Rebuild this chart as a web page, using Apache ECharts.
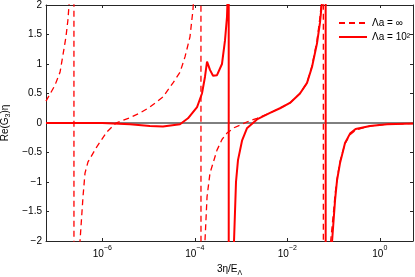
<!DOCTYPE html>
<html>
<head>
<meta charset="utf-8">
<script src="https://cdn.jsdelivr.net/npm/echarts@6/dist/echarts.min.js"></script>
<style>html,body{margin:0;padding:0;background:#fff;}#c{width:415px;height:277px;}</style>
</head>
<body>
<div id="c"></div>
<script>
// Λa = ∞ (dashed)
const dashX = [6.07e-8, 6.37e-8, 9.48e-8, 1.22e-7, 1.41e-7, 1.64e-7, 1.81e-7, 1.91e-7, 2.2e-7, 2.42e-7, 2.46e-7, 2.8e-7, 3.3e-7, 3.83e-7, 4.23e-7, 4.91e-7, 7.67e-7, 1.26e-6, 1.98e-6, 3.97e-6, 6.53e-6, 1.07e-5, 2.05e-5, 3.38e-5, 4.79e-5, 6.14e-5, 7.87e-5, 9.14e-5, 1.1e-4, 1.34e-4, 1.38e-4, 1.5e-4, 1.66e-4, 1.84e-4, 2.13e-4, 3.02e-4, 3.87e-4, 4.97e-4, 7.05e-4, 1.05e-3, 1.56e-3, 2.21e-3, 4.23e-3, 6.95e-3, 1.14e-2, 1.88e-2, 2.67e-2, 3.42e-2, 4.39e-2, 5.09e-2, 5.55e-2, 5.85e-2, 5.99e-2, 6.04e-2, 6.5e-2, 8.67e-2, 0.1, 0.108, 0.119, 0.138, 0.177, 0.227, 0.3, 0.615, 1.43, 5.22];
const dashY = [0.37, 0.39, 0.64, 0.86, 1.15, 1.46, 1.75, 2.0, 3.5, 30, -30, -4, -2.0, -1.25, -0.85, -0.66, -0.4, -0.15, 0.0, 0.09, 0.17, 0.27, 0.44, 0.68, 0.86, 1.12, 1.46, 1.92, 3, 30, -30, -4, -2.0, -1.25, -0.85, -0.46, -0.28, -0.17, -0.08, -0.02, 0.04, 0.08, 0.17, 0.25, 0.34, 0.5, 0.68, 0.97, 1.4, 1.8, 2.1, 4, 30, -30, -4, -2.0, -1.5, -1.2, -0.95, -0.65, -0.35, -0.2, -0.12, -0.05, -0.02, -0.01];
// Λa = 10^2 (solid)
const solidX = [6.07e-8, 1e-6, 3.97e-6, 1.07e-5, 2.05e-5, 4.79e-5, 7.13e-5, 1.12e-4, 1.43e-4, 1.66e-4, 1.84e-4, 2.13e-4, 2.48e-4, 3.02e-4, 3.87e-4, 4.5e-4, 4.97e-4, 5.22e-4, 5.38e-4, 5.45e-4, 6.37e-4, 7.05e-4, 7.78e-4, 8.59e-4, 1.05e-3, 1.34e-3, 2.21e-3, 4.23e-3, 6.95e-3, 1.14e-2, 1.88e-2, 2.67e-2, 3.42e-2, 4.39e-2, 5.09e-2, 5.62e-2, 6.1e-2, 6.7e-2, 6.8e-2, 8.0e-2, 9.3e-2, 0.108, 0.119, 0.138, 0.177, 0.227, 0.3, 0.615, 1.43, 5.22];
const solidY = [0.0, 0.0, -0.02, -0.05, -0.06, -0.02, 0.08, 0.27, 0.5, 0.78, 1.04, 0.9, 0.8, 0.81, 1.0, 1.4, 1.8, 2.3, 30, -30, -4, -2.0, -1.0, -0.63, -0.3, -0.09, 0.06, 0.17, 0.25, 0.34, 0.5, 0.68, 0.95, 1.35, 1.7, 2.05, 4, 30, -30, -4, -2.0, -1.3, -0.97, -0.68, -0.34, -0.18, -0.1, -0.05, -0.02, -0.01];
const xTicks = [1e-6, 1e-4, 1e-2, 1];
const xMin = 6.07e-8, xMax = 5.22;
const yMin = -2, yMax = 2, yStep = 0.5;
const seriesNames = ['\u039Ba = \u221E', '\u039Ba = 10\u00B2'];

const zip = (xs, ys) => xs.map((x, i) => [x, ys[i]]);
const RED = '#ff0000';
const AX = '#262626';
const FONT = 'Liberation Sans';

const expLabel = v => {
  const e = Math.round(Math.log10(v));
  return '{b|10}{s|' + (e < 0 ? '\u2212' + (-e) : e) + '}';
};
const yLabel = v => (v < 0 ? '\u2212' + Math.abs(v) : String(v));

const chart = echarts.init(document.getElementById('c'), null, {renderer: 'canvas'});
const baseX = {
  type: 'log', logBase: 10, min: xMin, max: xMax,
  axisLine: {show: true, onZero: false, lineStyle: {color: AX, width: 1}},
  splitLine: {show: false},
  minorTick: {show: false}
};
const baseY = {
  type: 'value', min: yMin, max: yMax, interval: yStep,
  axisLine: {show: true, onZero: false, lineStyle: {color: AX, width: 1}},
  axisTick: {show: true, inside: true, length: 3, lineStyle: {color: AX}},
  splitLine: {show: false}
};
chart.setOption({
  animation: false,
  backgroundColor: '#fff',
  textStyle: {fontFamily: FONT},
  grid: {left: 46, right: 2, top: 5, bottom: 36, containLabel: false, outerBoundsMode: 'none'},
  legend: {
    orient: 'vertical', left: 333, top: 13, itemWidth: 28, itemHeight: 10, itemGap: 4,
    data: seriesNames,
    itemStyle: {opacity: 0},
    textStyle: {fontFamily: FONT, fontSize: 10, color: '#000'}
  },
  xAxis: [
    Object.assign({}, baseX, {
      position: 'bottom',
      name: '{a|3\u03B7/E}{sub|\u039B}', nameLocation: 'middle', nameGap: 20,
      nameTextStyle: {fontFamily: FONT, fontSize: 10, color: '#000',
        rich: {a: {fontFamily: FONT, fontSize: 10, color: '#000', verticalAlign: 'top', padding: [0,0,0,0]},
               sub: {fontFamily: FONT, fontSize: 7, color: '#000', verticalAlign: 'top', padding: [6,0,0,0]}}},
      axisTick: {show: true, inside: true, length: 3, customValues: xTicks, lineStyle: {color: AX}},
      axisLabel: {show: true, margin: 4, customValues: xTicks, formatter: expLabel,
        rich: {b: {fontFamily: FONT, fontSize: 10, color: '#000', verticalAlign: 'bottom'},
               s: {fontFamily: FONT, fontSize: 7, color: '#000', verticalAlign: 'bottom', padding: [0,0,7,0]}}}
    }),
    Object.assign({}, baseX, {
      position: 'top',
      axisTick: {show: true, inside: true, length: 3, customValues: xTicks, lineStyle: {color: AX}},
      axisLabel: {show: false}
    })
  ],
  yAxis: [
    Object.assign({}, baseY, {
      position: 'left',
      name: 'Re(G{sub|3})\u03B7', nameLocation: 'middle', nameGap: 28, nameRotate: 90,
      nameTextStyle: {fontFamily: FONT, fontSize: 10, color: '#000',
        rich: {sub: {fontFamily: FONT, fontSize: 7, color: '#000', verticalAlign: 'top', padding: [6,0,0,0]}}},
      axisLabel: {show: true, margin: 4, formatter: yLabel, fontFamily: FONT, fontSize: 10, color: '#000'}
    }),
    Object.assign({}, baseY, {position: 'right', axisLabel: {show: false}})
  ],
  series: [
    {
      name: 'zero', type: 'line', data: [[xMin, 0], [xMax, 0]], symbol: 'none', z: 1, silent: true,
      lineStyle: {color: '#000', width: 1}
    },
    {
      name: seriesNames[0], type: 'line', data: zip(dashX, dashY), symbol: 'none', clip: true, z: 3,
      itemStyle: {color: RED},
      lineStyle: {color: RED, width: 1.3, type: [6, 4]}
    },
    {
      name: seriesNames[1], type: 'line', data: zip(solidX, solidY), symbol: 'none', clip: true, z: 2,
      itemStyle: {color: RED},
      lineStyle: {color: RED, width: 2}
    }
  ]
});
</script>
</body>
</html>
